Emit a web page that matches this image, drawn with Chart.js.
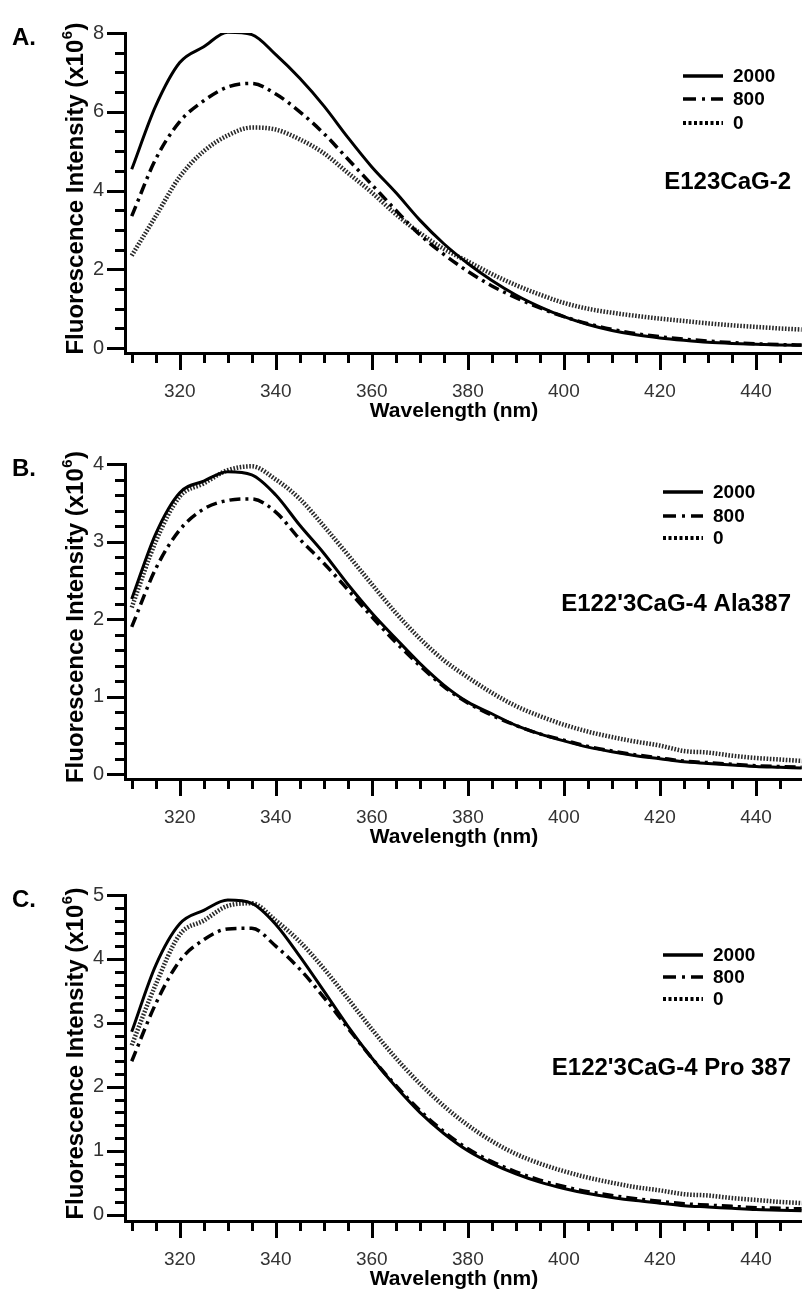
<!DOCTYPE html>
<html lang="en">
<head>
<meta charset="UTF-8">
<title>Fluorescence emission spectra</title>
<script src="https://cdn.jsdelivr.net/npm/chart.js"></script>
<style>
    html, body { margin: 0; padding: 0; background: #fff; overflow: hidden; }
    body { width: 807px; height: 1292px; position: relative; }
    .panel { position: absolute; left: 0; width: 807px; }
    canvas { display: block; }
</style>
</head>
<body>
<div class="panel" id="wrapA"><canvas id="chartA"></canvas></div>
<div class="panel" id="wrapB"><canvas id="chartB"></canvas></div>
<div class="panel" id="wrapC"><canvas id="chartC"></canvas></div>

<script>
// ---- data ----
const wavelengths = [310, 315, 320, 325, 330, 335, 340, 345, 350, 355,
                     360, 365, 370, 375, 380, 385, 390, 395, 400, 405,
                     410, 415, 420, 425, 430, 435, 440, 445, 450];
const seriesLabels = ['2000', '800', '0'];

// panel A: E123CaG-2
const a2000 = [4.54, 6.15, 7.25, 7.65, 8.02, 7.96, 7.45, 6.85, 6.15, 5.35,
               4.6, 3.95, 3.25, 2.65, 2.15, 1.72, 1.35, 1.05, 0.8, 0.6,
               0.45, 0.34, 0.26, 0.2, 0.15, 0.12, 0.1, 0.08, 0.07];
const a800  = [3.35, 4.8, 5.75, 6.28, 6.63, 6.72, 6.45, 6.0, 5.45, 4.8,
               4.15, 3.5, 2.88, 2.38, 1.95, 1.58, 1.28, 1.02, 0.8, 0.62,
               0.48, 0.37, 0.29, 0.23, 0.18, 0.14, 0.11, 0.09, 0.08];
const a0    = [2.35, 3.35, 4.35, 5.0, 5.4, 5.6, 5.55, 5.3, 4.95, 4.45,
               3.95, 3.4, 2.92, 2.52, 2.2, 1.88, 1.6, 1.36, 1.15, 1.0,
               0.9, 0.82, 0.75, 0.69, 0.63, 0.58, 0.54, 0.5, 0.47];

// panel B: E122'3CaG-4 Ala387
const b2000 = [2.26, 3.1, 3.63, 3.78, 3.9, 3.86, 3.6, 3.21, 2.85, 2.45,
               2.08, 1.75, 1.43, 1.15, 0.93, 0.78, 0.63, 0.52, 0.43, 0.35,
               0.29, 0.24, 0.2, 0.16, 0.14, 0.12, 0.1, 0.09, 0.08];
const b800  = [1.9, 2.65, 3.15, 3.42, 3.53, 3.55, 3.38, 3.03, 2.72, 2.38,
               2.03, 1.7, 1.4, 1.13, 0.92, 0.76, 0.63, 0.52, 0.44, 0.36,
               0.3, 0.25, 0.21, 0.17, 0.15, 0.13, 0.11, 0.1, 0.09];
const b0    = [2.15, 3.0, 3.58, 3.75, 3.92, 3.97, 3.8, 3.55, 3.2, 2.83,
               2.45, 2.08, 1.75, 1.47, 1.25, 1.05, 0.88, 0.75, 0.64, 0.55,
               0.48, 0.42, 0.37, 0.3, 0.28, 0.24, 0.21, 0.19, 0.17];

// panel C: E122'3CaG-4 Pro 387
const c2000 = [2.86, 3.9, 4.55, 4.76, 4.92, 4.87, 4.54, 4.04, 3.5, 2.95,
               2.45, 2.0, 1.6, 1.27, 1.0, 0.8, 0.64, 0.51, 0.41, 0.33,
               0.27, 0.22, 0.18, 0.14, 0.12, 0.1, 0.08, 0.07, 0.06];
const c800  = [2.4, 3.3, 3.97, 4.3, 4.47, 4.48, 4.2, 3.84, 3.4, 2.92,
               2.45, 2.02, 1.63, 1.3, 1.03, 0.83, 0.67, 0.54, 0.44, 0.36,
               0.3, 0.25, 0.21, 0.17, 0.15, 0.13, 0.11, 0.1, 0.09];
const c0    = [2.65, 3.6, 4.38, 4.6, 4.83, 4.87, 4.6, 4.27, 3.85, 3.38,
               2.9, 2.45, 2.05, 1.7, 1.4, 1.15, 0.95, 0.8, 0.68, 0.58,
               0.5, 0.43, 0.38, 0.32, 0.3, 0.26, 0.23, 0.2, 0.18];

// ---- axis ticks ----
const xMajorTicks = [320, 340, 360, 380, 400, 420, 440];
const xMinorStep = 5;
const yMajorA = [0, 2, 4, 6, 8];
const yMajorB = [0, 1, 2, 3, 4];
const yMajorC = [0, 1, 2, 3, 4, 5];

const FONT = '"Liberation Sans", Arial, Helvetica, sans-serif';
const X_MIN = 308.6, X_MAX = 449.5;

// line looks for the three series (solid, dash-dot, dotted)
const lineStyles = [
    { color: '#000', width: 3, dash: [] },
    { color: '#000', width: 3.5, dash: [11, 5, 3, 5] },
    { color: '#2a2a2a', width: 4.5, dash: [1.6, 1.6] }
];
const legendDash = [[], [13, 6, 3, 6], [3, 2.5]];

function stepTicks(from, to, step) {
    const out = [];
    for (let v = from; v <= to + 1e-9; v += step) out.push(Math.round(v * 1000) / 1000);
    return out;
}
const xTickValues = stepTicks(310, 445, xMinorStep);

// ticks, titles, legend and labels drawn on top of the chart
const panelDecor = {
    id: 'panelDecor',
    afterDraw(chart, args, o) {
        const ctx = chart.ctx;
        const ca = chart.chartArea;
        const xs = chart.scales.x, ys = chart.scales.y;
        ctx.save();

        // tick marks
        ctx.strokeStyle = '#000';
        ctx.lineWidth = 3;
        xs.ticks.forEach(t => {
            const px = Math.round(xs.getPixelForValue(t.value)) + 0.5;
            const len = xMajorTicks.includes(t.value) ? 17 : 10;
            ctx.beginPath();
            ctx.moveTo(px, ca.bottom);
            ctx.lineTo(px, ca.bottom + len);
            ctx.stroke();
        });
        ys.ticks.forEach(t => {
            const py = Math.round(ys.getPixelForValue(t.value)) + 0.5;
            const len = o.yMajor.includes(t.value) ? 18 : 10;
            ctx.beginPath();
            ctx.moveTo(ca.left - len, py);
            ctx.lineTo(ca.left, py);
            ctx.stroke();
        });

        ctx.fillStyle = '#000';

        // panel letter
        ctx.font = 'bold 24px ' + FONT;
        ctx.textAlign = 'left';
        ctx.textBaseline = 'middle';
        ctx.fillText(o.letter, 12, ca.top + 5);

        // y title with superscript
        ctx.save();
        ctx.translate(83, (ca.top + ca.bottom) / 2 - 4);
        ctx.rotate(-Math.PI / 2);
        ctx.textBaseline = 'alphabetic';
        ctx.textAlign = 'left';
        const main = 'Fluorescence Intensity (x10';
        ctx.font = 'bold 24px ' + FONT;
        const wMain = ctx.measureText(main).width;
        const wEnd = ctx.measureText(')').width;
        ctx.font = 'bold 15px ' + FONT;
        const wSup = ctx.measureText('6').width;
        const start = -(wMain + wSup + wEnd) / 2;
        ctx.font = 'bold 24px ' + FONT;
        ctx.fillText(main, start, 0);
        ctx.fillText(')', start + wMain + wSup + 1, 0);
        ctx.font = 'bold 15px ' + FONT;
        ctx.fillText('6', start + wMain + 0.5, -11);
        ctx.restore();

        // x title
        ctx.font = 'bold 21px ' + FONT;
        ctx.textAlign = 'center';
        ctx.textBaseline = 'alphabetic';
        ctx.fillText('Wavelength (nm)', 454, ca.bottom + 64);

        // legend
        ctx.font = 'bold 19px ' + FONT;
        ctx.textAlign = 'left';
        ctx.textBaseline = 'middle';
        chart.data.datasets.forEach((ds, i) => {
            const y = o.legendRows[i];
            ctx.save();
            ctx.strokeStyle = '#000';
            ctx.lineWidth = i === 2 ? 4 : 3.5;
            ctx.setLineDash(legendDash[i]);
            ctx.beginPath();
            ctx.moveTo(o.legendX, y);
            ctx.lineTo(o.legendX + 40, y);
            ctx.stroke();
            ctx.restore();
            ctx.fillText(ds.label, o.legendX + 50, y + 1);
        });

        // sample name
        ctx.font = 'bold 24px ' + FONT;
        ctx.textAlign = 'right';
        ctx.fillText(o.note, 791, o.noteY);

        ctx.restore();
    }
};

function buildPanel(id, p) {
    const wrap = document.getElementById('wrap' + id);
    wrap.style.top = p.top + 'px';
    wrap.style.height = p.height + 'px';
    const canvas = document.getElementById('chart' + id);
    canvas.width = 807;
    canvas.height = p.height;

    const datasets = p.series.map((vals, i) => ({
        label: seriesLabels[i],
        data: wavelengths.map((w, j) => ({ x: w, y: vals[j] })),
        borderColor: lineStyles[i].color,
        borderWidth: lineStyles[i].width,
        borderDash: lineStyles[i].dash,
        borderCapStyle: 'butt',
        pointRadius: 0,
        fill: false,
        cubicInterpolationMode: 'monotone'
    }));

    const yMajor = p.yMajor;
    const yTickValues = stepTicks(0, yMajor[yMajor.length - 1], p.yMinorStep);

    return new Chart(canvas.getContext('2d'), {
        type: 'line',
        data: { datasets },
        options: {
            responsive: false,
            animation: false,
            events: [],
            layout: { padding: { top: p.plotTop - p.top, left: 0, right: 0, bottom: 0 } },
            plugins: {
                legend: { display: false },
                tooltip: { enabled: false },
                panelDecor: {
                    letter: p.letter,
                    note: p.note,
                    noteY: p.noteY - p.top,
                    legendX: p.legendX,
                    legendRows: p.legendRows.map(r => r - p.top),
                    yMajor: yMajor
                }
            },
            scales: {
                x: {
                    type: 'linear',
                    min: X_MIN,
                    max: X_MAX,
                    grid: { display: false, drawTicks: false },
                    border: { display: true, color: '#000', width: 3 },
                    afterBuildTicks: s => { s.ticks = xTickValues.map(v => ({ value: v })); },
                    afterFit: s => { s.height = p.top + p.height - p.plotBottom; },
                    ticks: {
                        autoSkip: false,
                        maxRotation: 0,
                        padding: 27,
                        color: '#333',
                        font: { family: FONT, size: 19 },
                        callback: v => xMajorTicks.includes(v) ? String(v) : ''
                    }
                },
                y: {
                    type: 'linear',
                    min: p.yMin,
                    max: yMajor[yMajor.length - 1],
                    grid: { display: false, drawTicks: false },
                    border: { display: true, color: '#000', width: 3 },
                    afterBuildTicks: s => { s.ticks = yTickValues.map(v => ({ value: v })); },
                    afterFit: s => { s.width = 125; },
                    ticks: {
                        autoSkip: false,
                        padding: 21,
                        color: '#333',
                        font: { family: FONT, size: 20 },
                        callback: v => yMajor.includes(v) ? String(v) : ''
                    }
                }
            }
        },
        plugins: [panelDecor]
    });
}

buildPanel('A', {
    top: 0, height: 431, plotTop: 22, plotBottom: 353,
    yMin: -0.123, yMajor: yMajorA, yMinorStep: 0.5,
    series: [a2000, a800, a0],
    letter: 'A.', note: 'E123CaG-2', noteY: 182,
    legendX: 683, legendRows: [76, 99, 123]
});
buildPanel('B', {
    top: 431, height: 431, plotTop: 448, plotBottom: 779,
    yMin: -0.061, yMajor: yMajorB, yMinorStep: 0.2,
    series: [b2000, b800, b0],
    letter: 'B.', note: "E122'3CaG-4 Ala387", noteY: 604,
    legendX: 663, legendRows: [492, 516, 538]
});
buildPanel('C', {
    top: 862, height: 430, plotTop: 887, plotBottom: 1221,
    yMin: -0.099, yMajor: yMajorC, yMinorStep: 0.2,
    series: [c2000, c800, c0],
    letter: 'C.', note: "E122'3CaG-4 Pro 387", noteY: 1068,
    legendX: 663, legendRows: [955, 977, 999]
});
</script>
</body>
</html>
